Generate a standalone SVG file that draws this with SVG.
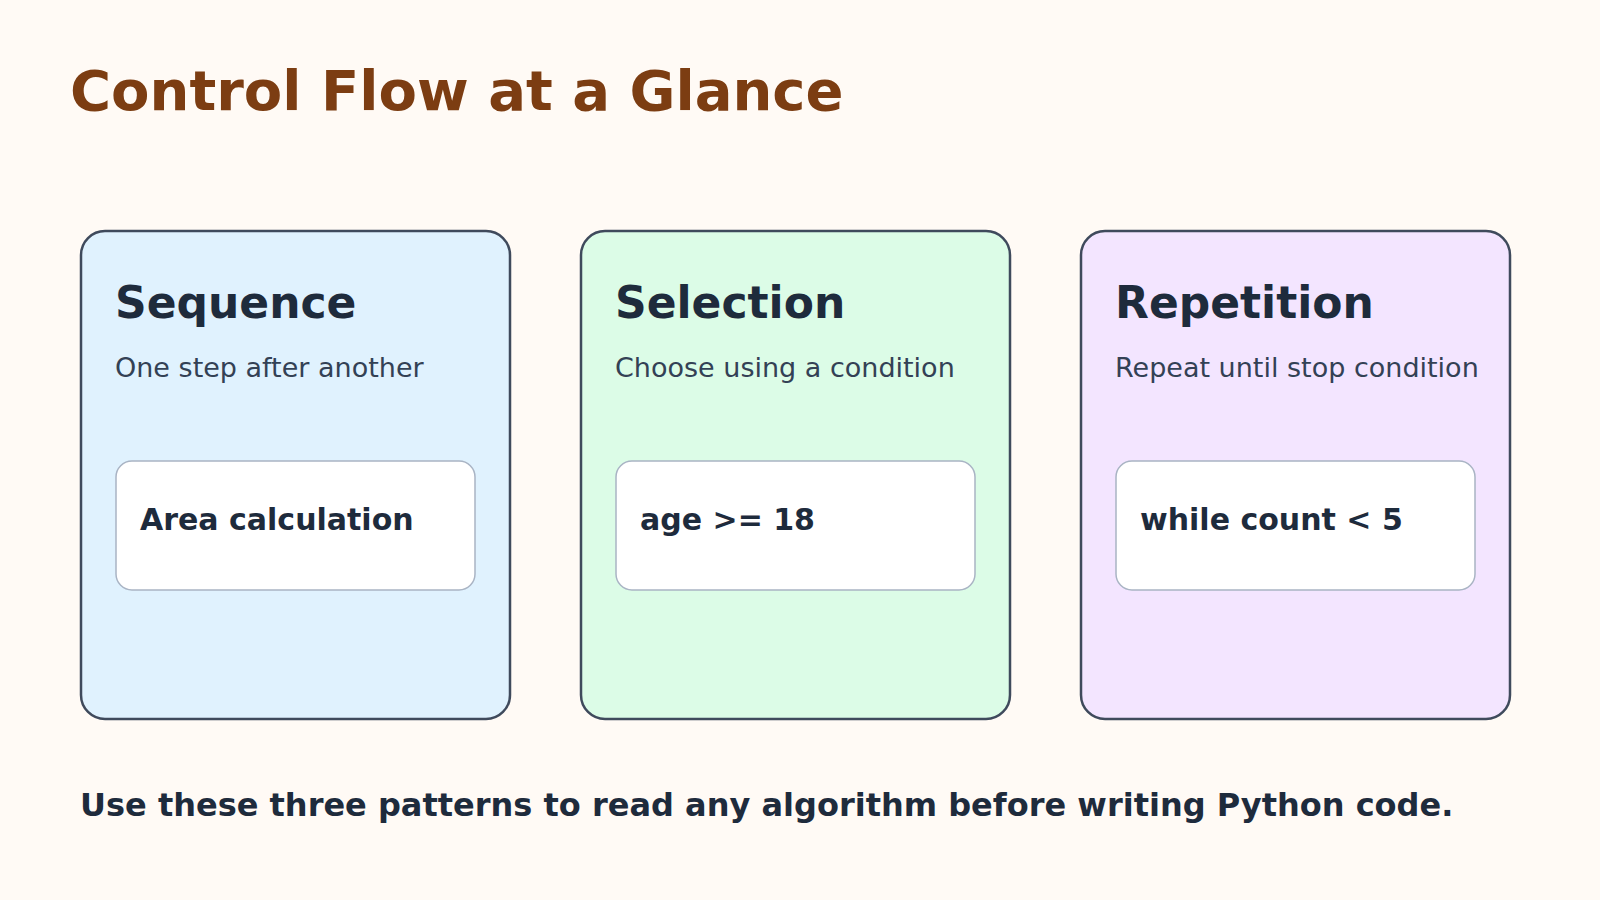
<svg xmlns="http://www.w3.org/2000/svg" width="1600" height="900" viewBox="0 0 1600 900">
<style>
.card{stroke:#3f4a5c;stroke-width:2.5}
.inner{fill:#fff;stroke:#a9b4c4;stroke-width:1.5}
.h{font-family:"DejaVu Sans",sans-serif;font-weight:bold;font-size:44px;fill:#1e2b3c}
.s{font-family:"DejaVu Sans",sans-serif;font-size:27px;fill:#334155}
.c{font-family:"DejaVu Sans",sans-serif;font-weight:bold;font-size:30px;fill:#1e2b3c}
</style>
<rect width="1600" height="900" fill="#fffaf5"/>
<text x="70" y="110" font-family="DejaVu Sans,sans-serif" font-weight="bold" font-size="56" fill="#7c3d12">Control Flow at a Glance</text>
<g id="sequence">
<rect class="card" x="81" y="231" width="429" height="488" rx="24" fill="#e0f2fe"/>
<text class="h" x="115" y="318">Sequence</text>
<text class="s" x="115" y="377">One step after another</text>
<rect class="inner" x="116" y="461" width="359" height="129" rx="16"/>
<text class="c" x="140" y="530">Area calculation</text>
</g>
<g id="selection">
<rect class="card" x="581" y="231" width="429" height="488" rx="24" fill="#dcfce7"/>
<text class="h" x="615" y="318">Selection</text>
<text class="s" x="615" y="377">Choose using a condition</text>
<rect class="inner" x="616" y="461" width="359" height="129" rx="16"/>
<text class="c" x="640" y="530">age &gt;= 18</text>
</g>
<g id="repetition">
<rect class="card" x="1081" y="231" width="429" height="488" rx="24" fill="#f3e5ff"/>
<text class="h" x="1115" y="318">Repetition</text>
<text class="s" x="1115" y="377">Repeat until stop condition</text>
<rect class="inner" x="1116" y="461" width="359" height="129" rx="16"/>
<text class="c" x="1140" y="530">while count &lt; 5</text>
</g>
<g id="connectors"/>
<text x="80" y="816" font-family="DejaVu Sans,sans-serif" font-weight="bold" font-size="32" fill="#1e2b3c">Use these three patterns to read any algorithm before writing Python code.</text>
</svg>
